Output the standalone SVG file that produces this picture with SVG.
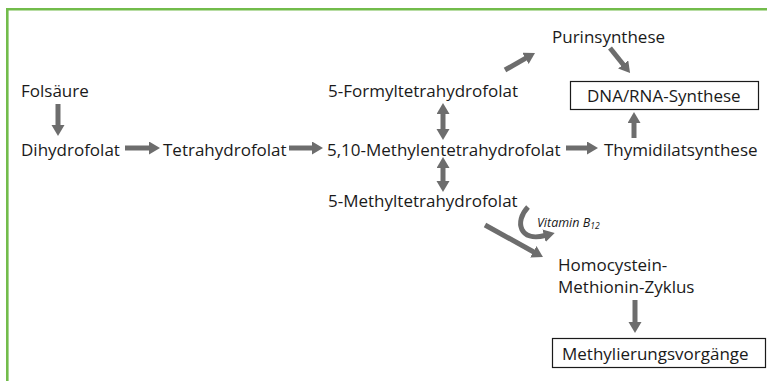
<svg xmlns="http://www.w3.org/2000/svg" width="767" height="381" viewBox="0 0 767 381">
<style>
text{font-family:"Open Sans","Liberation Sans",sans-serif;font-size:17px;fill:#1a1a1a}
.it{font-style:italic;font-size:12.5px}
.box{fill:#fff;stroke:#1a1a1a;stroke-width:1.2}
.arr{stroke:#6d6d6d;stroke-width:5;fill:none;marker-end:url(#ah)}
.dbl{stroke:#6d6d6d;stroke-width:5;fill:none;marker-end:url(#ah);marker-start:url(#ahs)}
.frame{stroke:#72bc4b;stroke-width:2.6;fill:none}
</style>
<defs>
<marker id="ah" markerUnits="userSpaceOnUse" markerWidth="12" markerHeight="14" refX="1" refY="6.5" orient="auto">
<path d="M0,0 L11,6.5 L0,13 z" fill="#6d6d6d"/>
</marker>
<marker id="ahs" markerUnits="userSpaceOnUse" markerWidth="12" markerHeight="14" refX="1" refY="6.5" orient="auto-start-reverse">
<path d="M0,0 L11,6.5 L0,13 z" fill="#6d6d6d"/>
</marker>
</defs>
<path class="frame" d="M7.3,381 L7.3,9.3 L767,9.3"/>
<g id="connectors">
<line class="arr" x1="58" y1="104" x2="58" y2="126"/>
<line class="arr" x1="125" y1="148" x2="150" y2="148"/>
<line class="arr" x1="289" y1="148" x2="313" y2="148"/>
<line class="arr" x1="566" y1="148" x2="588" y2="148"/>
<line class="arr" x1="634" y1="138" x2="634" y2="122"/>
<line class="dbl" x1="443" y1="113" x2="443" y2="130"/>
<line class="dbl" x1="443" y1="167" x2="443" y2="182"/>
<line class="arr" x1="505" y1="70" x2="526.3" y2="57.9"/>
<line class="arr" x1="610" y1="48" x2="623.8" y2="65.2"/>
<line class="arr" x1="485" y1="225" x2="534.2" y2="252.2"/>
<line class="arr" x1="635" y1="300" x2="635" y2="323"/>
<path class="arr" d="M528,207 C514,222 520,242 545,235.5"/>
</g>
<g id="folsaeure"><text x="21" y="97">Folsäure</text></g>
<g id="dihydrofolat"><text x="21" y="156">Dihydrofolat</text></g>
<g id="tetrahydrofolat"><text x="163" y="156">Tetrahydrofolat</text></g>
<g id="methylentetrahydrofolat"><text x="327" y="156">5,10-Methylentetrahydrofolat</text></g>
<g id="thymidilatsynthese"><text x="604" y="156">Thymidilatsynthese</text></g>
<g id="formyltetrahydrofolat"><text x="328" y="97">5-Formyltetrahydrofolat</text></g>
<g id="methyltetrahydrofolat"><text x="328" y="207">5-Methyltetrahydrofolat</text></g>
<g id="purinsynthese"><text x="552" y="43">Purinsynthese</text></g>
<g id="dna-rna-synthese"><rect class="box" x="570.5" y="81.5" width="188" height="28"/><text x="587" y="102">DNA/RNA-Synthese</text></g>
<g id="vitamin-b12"><text class="it" x="537" y="227">Vitamin B<tspan font-size="8.5" dy="2">12</tspan></text></g>
<g id="homocystein-zyklus"><text x="558" y="271">Homocystein-</text><text x="558" y="293">Methionin-Zyklus</text></g>
<g id="methylierungsvorgaenge"><rect class="box" x="552.5" y="338.5" width="213" height="29"/><text x="562" y="360">Methylierungsvorgänge</text></g>
</svg>
